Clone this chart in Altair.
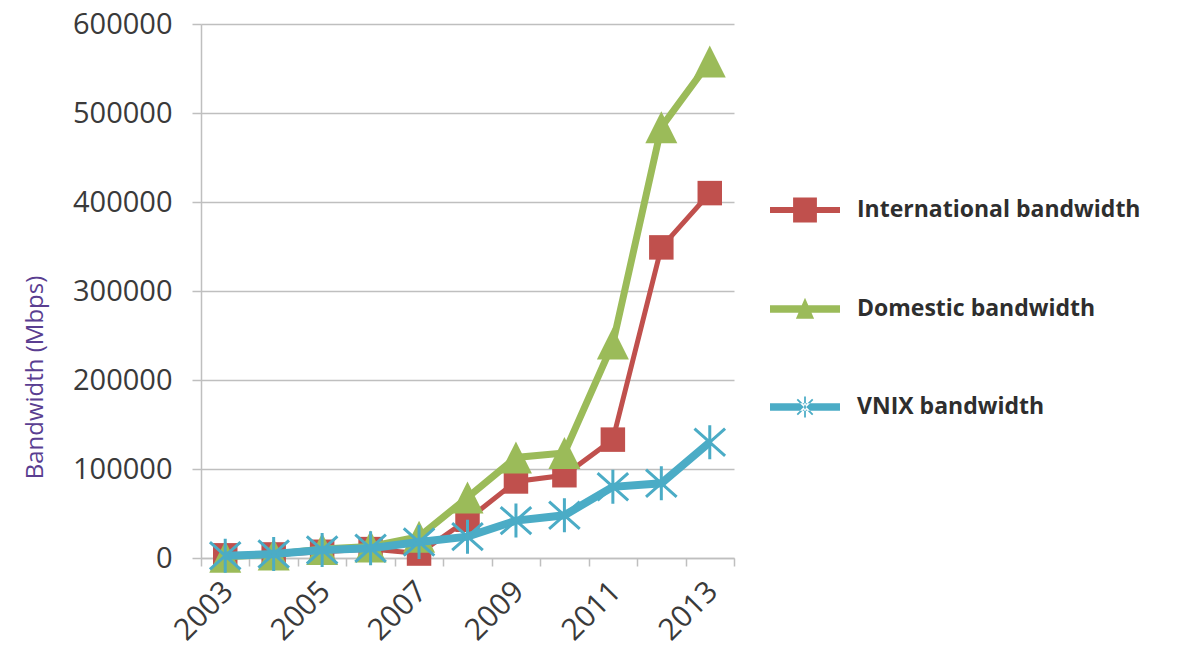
import math
import altair as alt
import pandas as pd

# Bandwidth growth, 2003-2013 (Mbps)
years = [2003, 2004, 2005, 2006, 2007, 2008, 2009, 2010, 2011, 2012, 2013]
international = [3000, 4000, 7000, 10000, 5000, 43000, 86000, 93000, 133000, 349000, 410000]
domestic = [1500, 4000, 10000, 13000, 24000, 68000, 113000, 118000, 241000, 484000, 558000]
vnix = [2500, 4500, 9000, 11000, 18000, 24000, 42000, 48000, 80000, 84000, 130000]

series_names = ["International bandwidth", "Domestic bandwidth", "VNIX bandwidth"]
series_values = [international, domestic, vnix]
series_colors = ["#c0504d", "#9bbb59", "#4bacc6"]

y_ticks = [0, 100000, 200000, 300000, 400000, 500000, 600000]
x_ticks = [y + 0.5 for y in range(2002, 2014)]

rows = []
for name, vals in zip(series_names, series_values):
    for yr, v in zip(years, vals):
        rows.append({"year": yr, "value": v, "series": name})
df = pd.DataFrame(rows)

# marker glyphs (unit box [-1, 1])
TRIANGLE = "M0,-1L1,1H-1Z"
ASTERISK = "M0,-1V1M-0.9,-0.8L0.9,0.8M-0.9,0.8L0.9,-0.8"


def bar(x0, y0, x1, y1, hw):
    """Thin filled bar between two points, half-width hw."""
    dx, dy = x1 - x0, y1 - y0
    n = math.hypot(dx, dy)
    ox, oy = -dy / n * hw, dx / n * hw
    pts = [(x0 + ox, y0 + oy), (x1 + ox, y1 + oy), (x1 - ox, y1 - oy), (x0 - ox, y0 - oy)]
    return "M" + "L".join(f"{px:.3f},{py:.3f}" for px, py in pts) + "Z"


# legend keys: a line segment with the series marker on it
key_intl = "M-1,-0.086H1V0.086H-1Z M-0.34,-0.36H0.34V0.36H-0.34Z"
key_dom = "M-1,-0.11H1V0.11H-1Z M0,-0.32L0.26,0.28H-0.26Z"
key_vnix = ("M-1,-0.11H1V0.11H-1Z "
            + bar(0, -0.3, 0, 0.3, 0.025)
            + bar(-0.22, -0.22, 0.22, 0.22, 0.025)
            + bar(-0.22, 0.22, 0.22, -0.22, 0.025))
legend_keys = [key_intl, key_dom, key_vnix]

AXIS_GREY = "#bfbfbf"

x_enc = alt.X(
    "year:Q",
    scale=alt.Scale(domain=[2002.5, 2013.5], nice=False, zero=False),
    axis=alt.Axis(
        values=x_ticks,
        grid=False,
        title=None,
        domainColor=AXIS_GREY,
        domainWidth=1.5,
        tickColor=AXIS_GREY,
        tickWidth=1.5,
        tickSize=8,
        labelExpr="floor(datum.value) % 2 == 1 ? toString(floor(datum.value)) : ''",
        labelAngle=-45,
        labelAlign="right",
        labelBaseline="top",
        labelOffset=-32,
        labelPadding=10,
        labelFlush=False,
        labelOverlap=False,
        labelFont="Open Sans",
        labelFontSize=30,
        labelColor="#3a3a3a",
    ),
)

y_enc = alt.Y(
    "value:Q",
    scale=alt.Scale(domain=[0, 600000], nice=False),
    axis=alt.Axis(
        values=y_ticks,
        format="d",
        title="Bandwidth (Mbps)",
        titleFont="Open Sans",
        titleFontSize=24,
        titleFontWeight="normal",
        titleColor="#5a3e91",
        titleX=-166,
        titleY=353,
        titleAlign="center",
        titleBaseline="middle",
        titleAngle=270,
        grid=True,
        gridColor=AXIS_GREY,
        gridWidth=1.5,
        domainColor=AXIS_GREY,
        domainWidth=1.5,
        tickColor=AXIS_GREY,
        tickWidth=1.5,
        tickSize=9,
        labelPadding=20,
        labelFont="Open Sans",
        labelFontSize=29,
        labelColor="#3a3a3a",
    ),
)

base = alt.Chart(df)

layers = []
line_widths = [5, 7, 8]
for name, color, lw in zip(series_names, series_colors, line_widths):
    sub = base.transform_filter(alt.datum.series == name)
    layers.append(
        sub.mark_line(color=color, strokeWidth=lw, interpolate="linear")
        .encode(x=x_enc, y=y_enc)
    )
    if name.startswith("International"):
        pts = sub.mark_point(shape="square", filled=True, size=600, color=color, opacity=1)
    elif name.startswith("Domestic"):
        pts = sub.mark_point(shape=TRIANGLE, filled=True, size=1024, color=color, opacity=1)
    else:
        pts = sub.mark_point(shape=ASTERISK, filled=False, size=1156, color=color,
                             strokeWidth=3, opacity=1)
    layers.append(pts.encode(x=x_enc, y=y_enc))

legend_def = alt.Legend(
    title=None,
    orient="none",
    legendX=569,
    legendY=151,
    padding=0,
    symbolSize=4900,
    symbolStrokeWidth=0,
    symbolOpacity=1,
    rowPadding=51,
    labelOffset=17,
    labelLimit=0,
    labelFont="Open Sans",
    labelFontSize=23,
    labelFontWeight="bold",
    labelColor="#2e2e2e",
)

legend_layer = (
    base.transform_filter("datum.year < 0")
    .mark_point(filled=True, opacity=1)
    .encode(
        x=x_enc,
        y=y_enc,
        color=alt.Color("series:N", scale=alt.Scale(domain=series_names, range=series_colors),
                        legend=legend_def),
        shape=alt.Shape("series:N", scale=alt.Scale(domain=series_names, range=legend_keys),
                        legend=legend_def),
    )
)
layers.append(legend_layer)

chart = (
    alt.layer(*layers)
    .properties(
        width=533,
        height=534,
        autosize=alt.AutoSizeParams(type="none"),
        padding={"left": 201, "top": 24, "right": 445, "bottom": 96},
        background="white",
    )
    .configure_view(strokeWidth=0)
)

chart.save("out.html", embed_options={"renderer": "svg", "actions": False})
